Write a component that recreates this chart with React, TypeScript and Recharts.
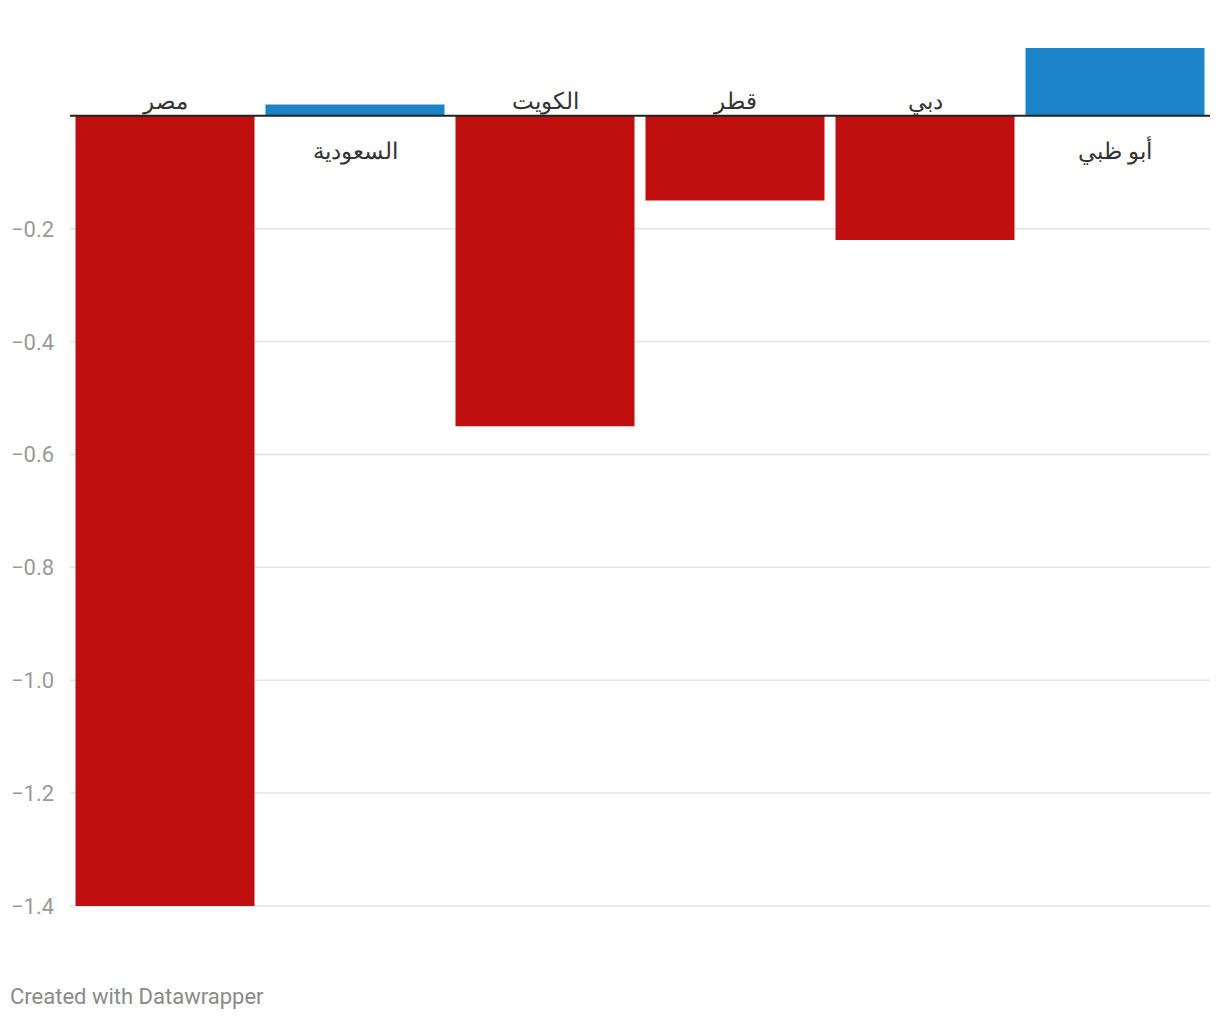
import { Bar, BarChart, CartesianGrid, Cell, LabelList, ReferenceLine, XAxis, YAxis } from 'recharts';

const categories = ['مصر', 'السعودية', 'الكويت', 'قطر', 'دبي', 'أبو ظبي'];
const values = [-1.4, 0.02, -0.55, -0.15, -0.22, 0.12];
const yTicks = [-1.4, -1.2, -1.0, -0.8, -0.6, -0.4, -0.2];

const data = categories.map((name, i) => ({ name, value: values[i] }));

const RED = '#c00f0f';
const BLUE = '#1b83c7';

const formatTick = (v: number) => (v < 0 ? '\u2212' + Math.abs(v).toFixed(1) : v.toFixed(1));

const YTick = ({ y, payload }: any) => (
  <text x={11} y={y} dy={8} fill='#9a9a9a' fontSize={22} fontFamily='Roboto' textAnchor='start'>
    {formatTick(payload.value)}
  </text>
);

const NameLabel = (props: any) => {
  const { x, y, width, height, index } = props;
  const top = Math.min(y, y + height);
  const bottom = Math.max(y, y + height);
  const negative = values[index] < 0;
  return (
    <text
      x={x + width / 2}
      y={negative ? top - 7 : bottom + 43}
      fill='#333'
      fontSize={23}
      fontFamily='Roboto'
      textAnchor='middle'
    >
      {categories[index]}
    </text>
  );
};

const App = () => {
  return (
    <div style={{ position: 'absolute', left: 0, top: 0, width: 1220, height: 1020, background: '#fff' }}>
      <BarChart
        width={1220}
        height={1020}
        data={data}
        margin={{ top: 48, right: 10, bottom: 114, left: 0 }}
        barCategoryGap={5.5}
      >
        <CartesianGrid vertical={false} horizontalValues={yTicks} stroke='#e3e3e3' strokeWidth={1.5} />
        <XAxis dataKey='name' hide />
        <YAxis
          type='number'
          domain={[-1.4, 0.12]}
          ticks={yTicks}
          width={70}
          axisLine={false}
          tickLine={false}
          tick={<YTick />}
        />
        <Bar dataKey='value' isAnimationActive={false}>
          {values.map((v, i) => (
            <Cell key={i} fill={v < 0 ? RED : BLUE} />
          ))}
          <LabelList dataKey='value' content={<NameLabel />} />
        </Bar>
        <ReferenceLine y={0} stroke='#222' strokeWidth={2} />
      </BarChart>
      <div
        style={{
          position: 'absolute',
          left: 10,
          top: 984,
          fontFamily: 'Roboto',
          fontSize: 22,
          color: '#8a8a8a',
        }}
      >
        Created with Datawrapper
      </div>
    </div>
  );
};

export default App;
